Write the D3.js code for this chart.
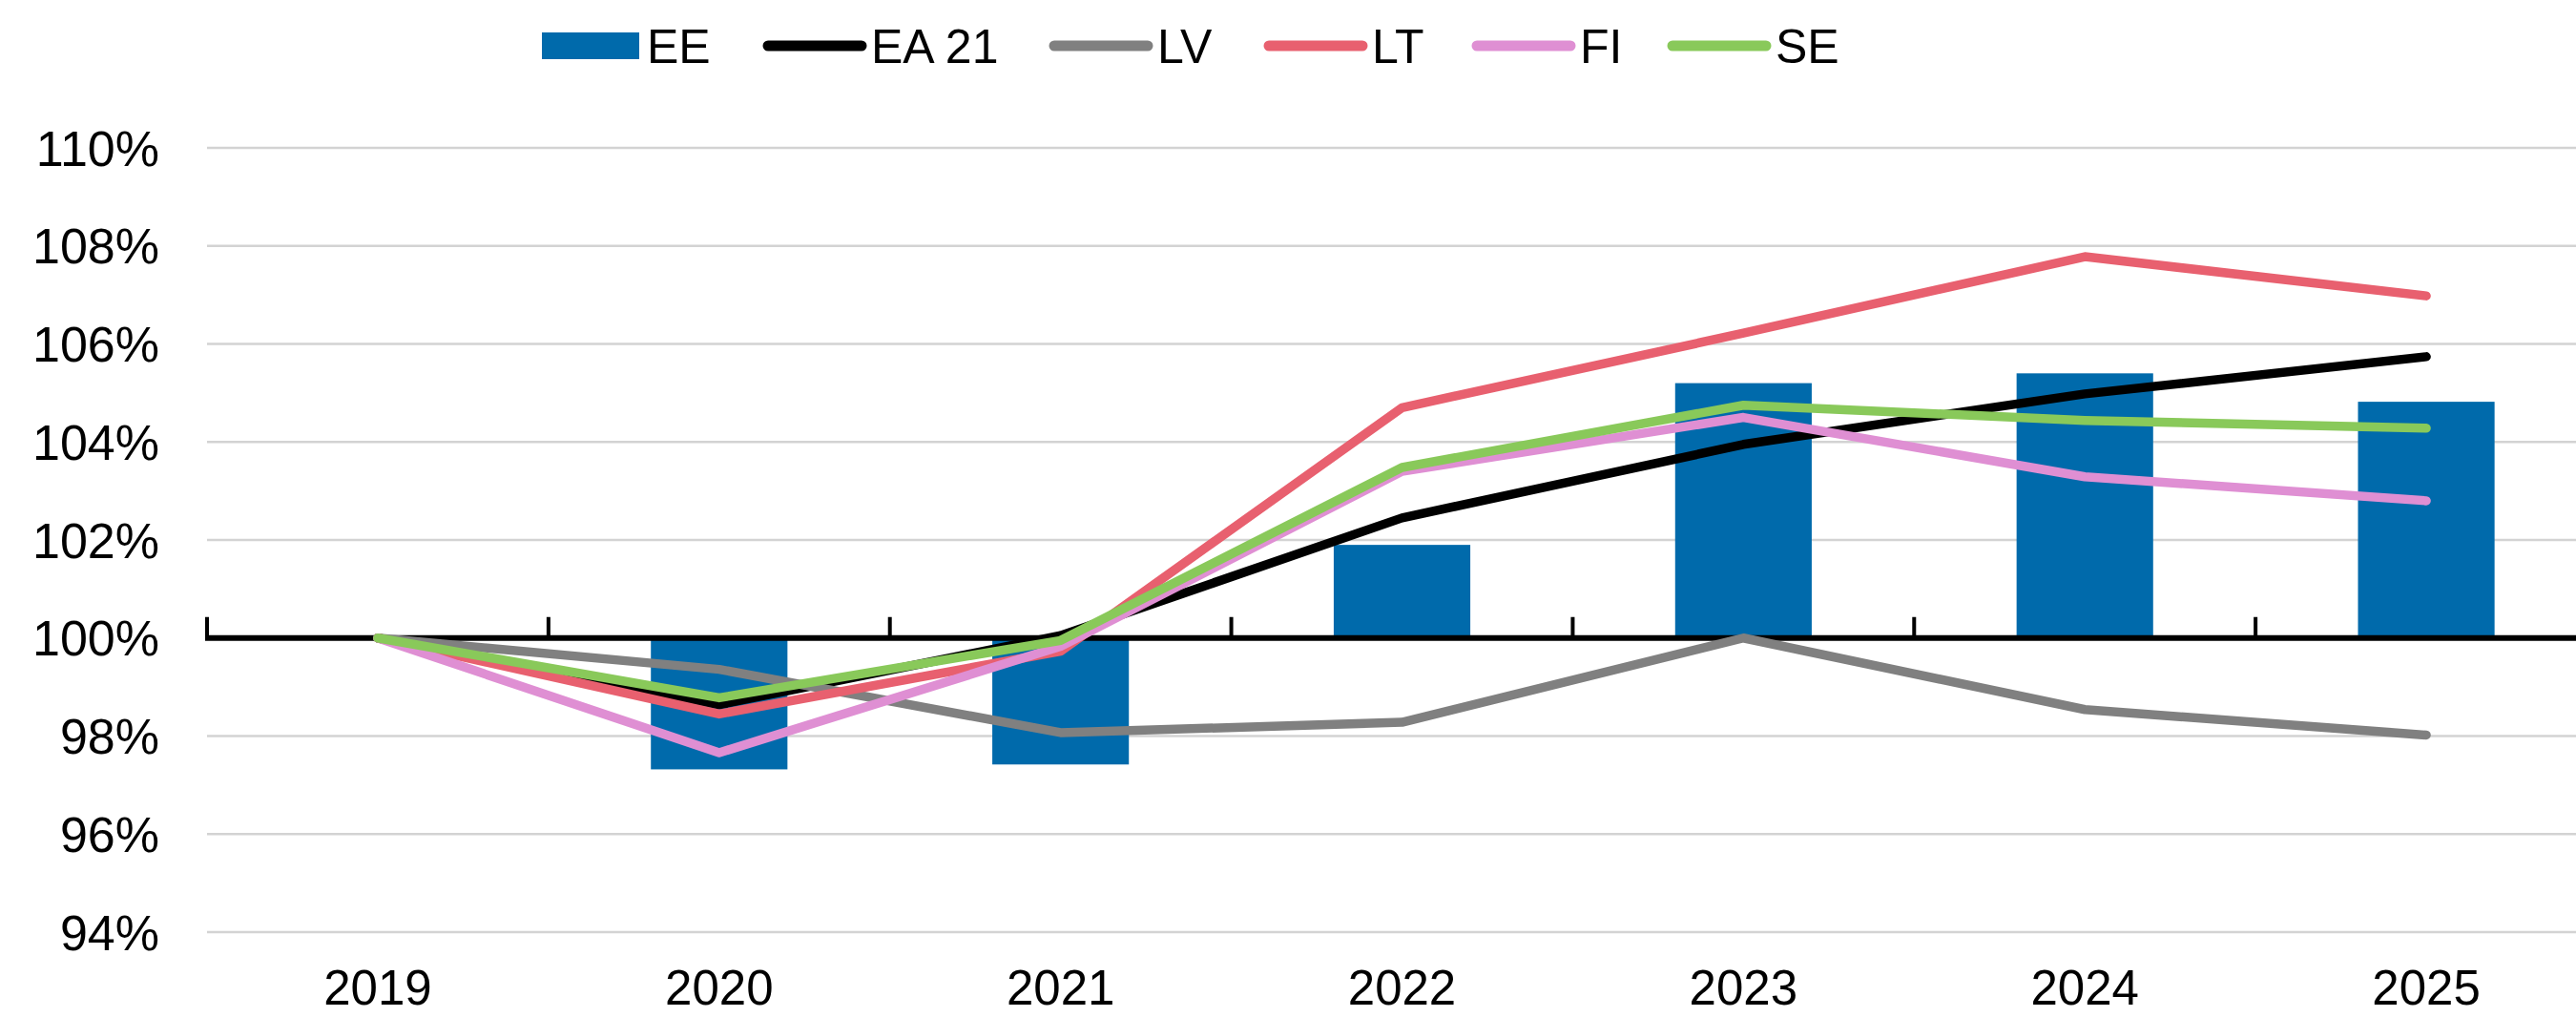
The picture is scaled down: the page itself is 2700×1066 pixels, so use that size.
<!DOCTYPE html>
<html>
<head>
<meta charset="utf-8">
<script src="https://cdn.jsdelivr.net/npm/d3@7"></script>
<style>
  body { margin: 0; background: #fff; }
  svg { display: block; font-family: "Liberation Sans", Arial, sans-serif; }
</style>
</head>
<body>
<svg id="chart" width="2700" height="1066"></svg>
<script>
var years = ["2019", "2020", "2021", "2022", "2023", "2024", "2025"];
var yTicks = [94, 96, 98, 100, 102, 104, 106, 108, 110];

// bars
var EE = [100, 97.32, 97.42, 101.9, 105.2, 105.4, 104.82];
// lines
var EA21 = [100, 98.64, 100.05, 102.45, 103.95, 104.98, 105.74];
var LV = [100, 99.36, 98.07, 98.28, 100.0, 98.54, 98.02];
var LT = [100, 98.45, 99.73, 104.7, 106.22, 107.78, 106.98];
var FI = [100, 97.66, 99.83, 103.4, 104.5, 103.29, 102.8];
var SE = [100, 98.78, 99.95, 103.48, 104.75, 104.44, 104.28];

var lineSeries = [
    { name: "EA 21", values: EA21, color: "#000000" },
    { name: "LV", values: LV, color: "#808080" },
    { name: "LT", values: LT, color: "#e8606f" },
    { name: "FI", values: FI, color: "#df8fd3" },
    { name: "SE", values: SE, color: "#89c95a" }
];
var barColor = "#006aab";

var svg = d3.select("#chart");

var x = d3.scaleBand()
    .domain(years)
    .range([217, 2722])
    .paddingInner(0.6)
    .paddingOuter(0.3);
var step = x.step();
var y = d3.scaleLinear().domain([94, 110]).range([977, 155]);

function cx(yr) { return x(yr) + x.bandwidth() / 2; }

// gridlines
svg.append("g").selectAll("line")
    .data(yTicks.filter(function(t) { return t !== 100; }))
    .enter().append("line")
    .attr("x1", 217).attr("x2", 2700)
    .attr("y1", function(d) { return y(d); })
    .attr("y2", function(d) { return y(d); })
    .attr("stroke", "#d3d3d3")
    .attr("stroke-width", 2.5);

// y labels
svg.append("g").selectAll("text")
    .data(yTicks)
    .enter().append("text")
    .attr("x", 167)
    .attr("y", function(d) { return y(d); })
    .attr("dy", "0.36em")
    .attr("text-anchor", "end")
    .attr("font-size", 52)
    .attr("fill", "#000")
    .text(function(d) { return d + "%"; });

// EE bars, from the 100% baseline
svg.append("g").selectAll("rect")
    .data(years.map(function(yr, i) { return { yr: yr, v: EE[i] }; }).filter(function(d) { return d.v !== 100; }))
    .enter().append("rect")
    .attr("x", function(d) { return x(d.yr); })
    .attr("width", x.bandwidth())
    .attr("y", function(d) { return y(Math.max(d.v, 100)); })
    .attr("height", function(d) { return Math.abs(y(d.v) - y(100)); })
    .attr("fill", barColor);

// category axis on 100%
var tickXs = years.map(function(yr) { return x(yr) - step * 0.3; });
var axis = svg.append("g");
axis.selectAll("line")
    .data(tickXs)
    .enter().append("line")
    .attr("x1", function(d) { return d; })
    .attr("x2", function(d) { return d; })
    .attr("y1", y(100))
    .attr("y2", y(100) - 22)
    .attr("stroke", "#000")
    .attr("stroke-width", 4);
axis.append("line")
    .attr("x1", 215).attr("x2", 2700)
    .attr("y1", y(100)).attr("y2", y(100))
    .attr("stroke", "#000")
    .attr("stroke-width", 6);

// x labels
svg.append("g").selectAll("text")
    .data(years)
    .enter().append("text")
    .attr("x", function(d) { return cx(d); })
    .attr("y", 1053)
    .attr("text-anchor", "middle")
    .attr("font-size", 51)
    .attr("fill", "#000")
    .text(function(d) { return d; });

// lines
var line = d3.line()
    .x(function(d, i) { return cx(years[i]); })
    .y(function(d) { return y(d); });

svg.append("g").selectAll("path")
    .data(lineSeries)
    .enter().append("path")
    .attr("d", function(s) { return line(s.values); })
    .attr("fill", "none")
    .attr("stroke", function(s) { return s.color; })
    .attr("stroke-width", 9.5)
    .attr("stroke-linejoin", "round")
    .attr("stroke-linecap", "round");

// legend
var legendX = [568, 800, 1100, 1325, 1543, 1748];
var legendY = 48;
var leg = svg.append("g");
leg.append("rect")
    .attr("x", legendX[0]).attr("y", legendY - 14)
    .attr("width", 102).attr("height", 28)
    .attr("fill", barColor);
leg.append("text")
    .attr("x", legendX[0] + 110).attr("y", legendY)
    .attr("dy", "0.36em")
    .attr("font-size", 50)
    .text("EE");
lineSeries.forEach(function(s, i) {
    var lx = legendX[i + 1];
    leg.append("line")
        .attr("x1", lx + 5).attr("x2", lx + 103)
        .attr("y1", legendY).attr("y2", legendY)
        .attr("stroke", s.color)
        .attr("stroke-width", 11)
        .attr("stroke-linecap", "round");
    leg.append("text")
        .attr("x", lx + 113).attr("y", legendY)
        .attr("dy", "0.36em")
        .attr("font-size", 50)
        .text(s.name);
});
</script>
</body>
</html>
